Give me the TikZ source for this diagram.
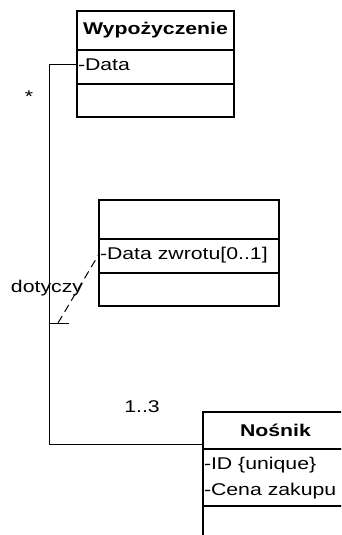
\documentclass[tikz,border=0pt]{standalone}
\usepackage{fontspec}
\setmainfont{Liberation Sans}[FakeStretch=1.25]
\usetikzlibrary{calc}
\newcommand{\umlfont}{\fontsize{17}{26}\selectfont}
\tikzset{
  compart/.style={draw, line width=1.4pt, rectangle, inner sep=0pt, outer sep=0pt, anchor=north west},
  attr/.style={anchor=west, inner sep=0pt, outer sep=0pt, align=left},
  classname/.style={font=\umlfont\bfseries, inner sep=0pt},
  link/.style={line width=1pt},
  note/.style={inner sep=0pt}
}
\begin{document}
\begin{tikzpicture}[x=1pt, y=-1pt, font=\umlfont]
  \path[use as bounding box, clip] (0,0) rectangle (341,535);

  % Wypozyczenie
  \node[compart, minimum width=157pt, minimum height=39pt] (wt) at (77,11) {};
  \node[compart, minimum width=157pt, minimum height=34pt] (wa) at (77,50) {};
  \node[compart, minimum width=157pt, minimum height=33pt] (wo) at (77,84) {};
  \node[classname] (wname) at (wt.center) {Wypożyczenie};
  \node[attr] (wdata) at ($(wa.west)+(1,-2)$) {-Data};

  % association class
  \node[compart, minimum width=180pt, minimum height=39pt] (at) at (99,200) {};
  \node[compart, minimum width=180pt, minimum height=34pt] (aa) at (99,239) {};
  \node[compart, minimum width=180pt, minimum height=33pt] (ao) at (99,273) {};
  \node[attr] (adata) at ($(aa.west)+(1,-1)$) {-Data zwrotu[0..1]};

  % Nosnik
  \node[compart, minimum width=145pt, minimum height=37pt] (nt) at (203,412) {};
  \node[compart, minimum width=145pt, minimum height=57pt] (na) at (203,449) {};
  \node[compart, minimum width=145pt, minimum height=40pt] (no) at (203,506) {};
  \node[classname] (nname) at ($(nt.center)+(0,0)$) {Nośnik};
  \node[attr] (nid) at ($(na.north west)+(1,16)$) {-ID \{unique\}};
  \node[attr] (ncena) at ($(na.north west)+(1,42)$) {-Cena zakupu};

  % association
  \coordinate (bendtop) at (49,65);
  \coordinate (bendbot) at (49,444);
  \draw[link] ($(wa.west)+(0,-2)$) -- (bendtop) -- (bendbot) -- (bendbot -| nt.west);

  % link to association class
  \coordinate (tick) at (49,323);
  \draw[link] (tick) -- ++(20,0);
  \draw[link, dash pattern=on 8pt off 5pt] ($(tick)+(9,0)$) -- ($(aa.west)+(0,-2)$);

  % labels
  \node[note] (star) at (29,97) {*};
  \node[note] (dot) at (47,288) {dotyczy};
  \node[note] (mult) at (142,407) {1..3};
\end{tikzpicture}
\end{document}
